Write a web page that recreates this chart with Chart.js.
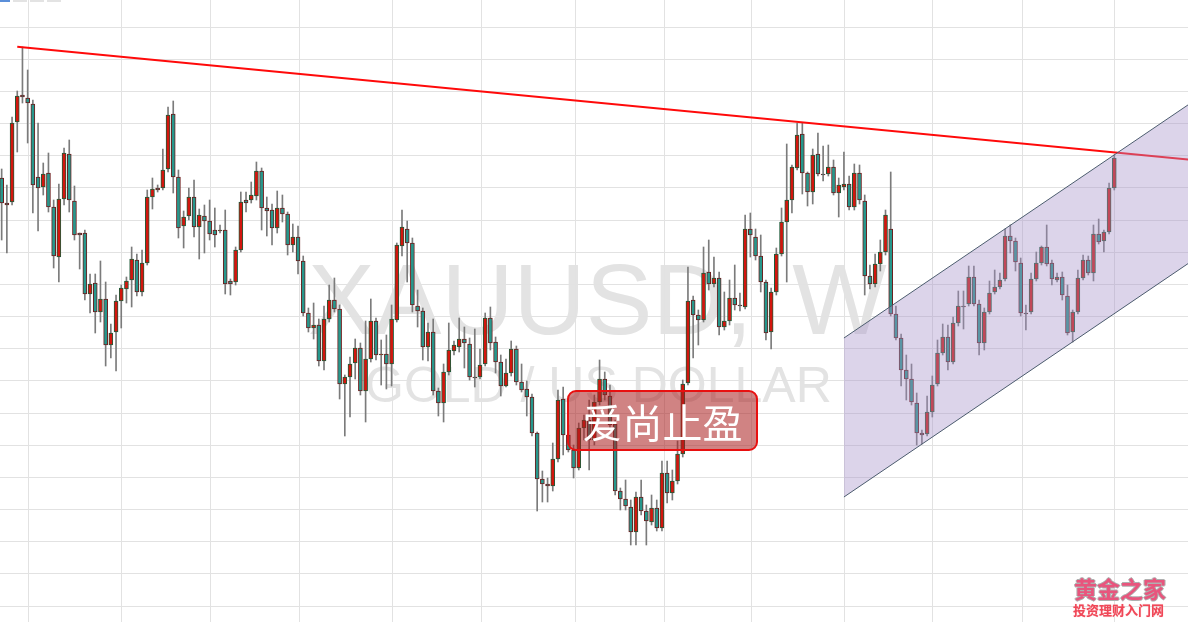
<!DOCTYPE html>
<html><head><meta charset="utf-8">
<script src="https://cdn.jsdelivr.net/npm/chart.js@4.4.1/dist/chart.umd.min.js"></script>
<style>
html,body{margin:0;padding:0;background:#fff;}
#wrap{position:relative;width:1188px;height:622px;overflow:hidden;background:#fff;}
.wm{position:absolute;white-space:nowrap;font-family:"Liberation Sans",Arial,sans-serif;color:#e3e3e3;line-height:1;}
#wm1{left:308px;top:249px;font-size:100px;word-spacing:12px;}
#wm2{left:365px;top:360px;font-size:50px;}
#c{position:absolute;left:0;top:0;}
#label{position:absolute;left:567px;top:390px;width:191px;height:61px;box-sizing:border-box;border:2px solid #e81010;border-radius:9px;background:rgba(170,30,30,0.55);color:#fff;font-family:"Noto Sans CJK SC",sans-serif;font-size:40px;display:flex;align-items:center;justify-content:center;line-height:1;}
#logo1{position:absolute;left:1074px;top:577px;font-family:"Noto Sans CJK SC",sans-serif;font-size:23px;font-weight:bold;line-height:1;color:#e8557d;text-shadow:-1px 0 #b0b0b0,1px 0 #b0b0b0,0 -1px #b0b0b0,0 1px #b0b0b0;white-space:nowrap;}
#logo2{position:absolute;left:1073px;top:603px;font-family:"Noto Sans CJK SC",sans-serif;font-size:13px;font-weight:bold;line-height:1;color:#f04858;text-shadow:0 0 1px #f7a0a8;white-space:nowrap;}
.tab{position:absolute;top:0;height:2px;background:#e3e3e3;}
</style></head>
<body>
<div id="wrap">
  <div class="wm" id="wm1">XAUUSD, W</div>
  <div class="wm" id="wm2">GOLD / US DOLLAR</div>
  <canvas id="c" width="1188" height="622"></canvas>
  <div id="label">爱尚止盈</div>
  <div id="logo1">黄金之家</div>
  <div id="logo2">投资理财入门网</div>
  <div class="tab" style="left:0;width:10px;background:#5b8fd9"></div>
  <div class="tab" style="left:13px;width:14px"></div>
  <div class="tab" style="left:30px;width:14px"></div>
  <div class="tab" style="left:47px;width:14px"></div>
</div>
<script>
// Weekly candles (oldest -> newest)
const opens = [
1322,1297,1298,1378,1405,1402,1396,1323,1313,1327,
1293,1243,1301,1346,1299,1267,1267,1206,1217,1188,
1201,1155,1168,1199,1211,1220,1240,1208,1237,1303,
1312,1312,1331,1386,1323,1274,1284,1303,1273,1284,
1279,1270,1269,1270,1219,1218,1250,1300,1300,1304,
1329,1292,1290,1272,1292,1286,1255,1263,1239,1187,
1172,1175,1139,1181,1200,1191,1116,1123,1137,1152,
1109,1141,1179,1145,1146,1136,1180,1254,1271,1257,
1194,1189,1153,1168,1109,1097,1128,1149,1153,1161,
1156,1123,1123,1136,1182,1158,1138,1114,1127,1151,
1118,1111,1103,1067,1021,1016,1014,1041,1101,1065,
1050,1032,1072,1080,1060,1098,1121,1104,1076,1009,
1001,993,968,1003,989,978,992,972,1027,1007,
1019,1046,1117,1200,1185,1180,1228,1216,1222,1173,
1179,1202,1195,1193,1271,1263,1244,1218,1168,1208,
1246,1278,1300,1332,1366,1327,1308,1346,1326,1326,
1333,1307,1313,1316,1293,1327,1299,1224,1216,1236,
1248,1271,1186,1162,1130,1121,1097,1067,1066,1088,
1116,1147,1163,1138,1177,1194,1196,1223,1196,1157,
1188,1208,1213,1221,1264,1259,1237,1187,1188,1221,
1237,1253,1237,1220,1223,1204,1168,1188,1222,1240,
1227,1266,1259,1268,1312];
const highs = [
1331,1315,1383,1409,1453,1430,1400,1377,1337,1347,
1300,1316,1352,1360,1314,1267,1270,1226,1226,1239,
1218,1176,1205,1215,1223,1253,1246,1250,1310,1322,
1315,1351,1393,1399,1330,1289,1312,1320,1291,1295,
1300,1292,1275,1290,1221,1253,1308,1308,1318,1338,
1332,1303,1296,1309,1305,1288,1276,1274,1244,1192,
1197,1181,1194,1215,1222,1195,1125,1143,1161,1157,
1179,1201,1182,1160,1165,1195,1257,1290,1279,1262,
1210,1192,1177,1181,1112,1136,1177,1159,1182,1173,
1162,1171,1151,1187,1193,1163,1145,1141,1159,1154,
1136,1119,1106,1068,1029,1022,1057,1110,1113,1075,
1055,1077,1085,1100,1105,1140,1128,1115,1080,1012,
1020,1000,1008,1020,995,1005,1000,1039,1039,1030,
1059,1120,1233,1204,1190,1253,1260,1243,1228,1208,
1220,1235,1207,1285,1287,1271,1265,1220,1212,1252,
1292,1356,1335,1377,1377,1328,1351,1367,1354,1355,
1340,1322,1348,1324,1336,1335,1305,1235,1246,1260,
1290,1328,1194,1166,1145,1136,1107,1070,1104,1124,
1160,1176,1175,1183,1209,1209,1234,1234,1200,1192,
1219,1230,1227,1271,1275,1262,1242,1195,1227,1248,
1254,1275,1240,1227,1228,1215,1190,1230,1245,1244,
1275,1281,1270,1317,1345];
const lows = [
1260,1247,1295,1348,1397,1357,1287,1269,1305,1288,
1232,1218,1295,1288,1260,1231,1200,1187,1167,1178,
1134,1142,1129,1172,1197,1193,1204,1204,1235,1291,
1308,1310,1328,1307,1262,1252,1280,1263,1241,1247,
1260,1253,1267,1206,1205,1215,1248,1288,1297,1300,
1270,1264,1255,1267,1278,1245,1248,1226,1184,1168,
1161,1134,1130,1178,1188,1101,1064,1083,1121,1105,
1078,1138,1140,1115,1111,1114,1178,1244,1218,1188,
1173,1140,1139,1105,1084,1078,1125,1145,1148,1132,
1120,1113,1121,1134,1150,1127,1104,1113,1124,1115,
1108,1084,1064,989,998,998,1009,1038,1045,1048,
1022,1030,1060,1030,1055,1095,1100,1072,1005,990,
990,955,955,985,955,975,969,969,997,1000,
1016,1043,1115,1142,1155,1178,1210,1213,1165,1170,
1175,1190,1189,1191,1243,1240,1208,1160,1151,1205,
1244,1218,1287,1330,1306,1294,1296,1324,1319,1324,
1305,1283,1310,1290,1290,1296,1205,1211,1213,1229,
1245,1184,1160,1114,1100,1095,1055,1056,1064,1083,
1114,1145,1130,1136,1174,1171,1194,1194,1145,1150,
1186,1206,1211,1219,1247,1229,1184,1170,1186,1219,
1235,1234,1215,1218,1200,1165,1158,1186,1220,1225,
1219,1256,1248,1266,1310];
const closes = [
1297,1295,1377,1404,1403,1397,1315,1312,1326,1293,
1244,1301,1347,1300,1265,1265,1206,1216,1188,1201,
1155,1167,1199,1212,1219,1241,1208,1237,1303,1311,
1310,1330,1385,1323,1272,1283,1303,1273,1285,1279,
1266,1265,1270,1216,1216,1250,1298,1297,1305,1329,
1292,1289,1272,1292,1286,1255,1263,1239,1187,1172,
1175,1139,1181,1200,1191,1116,1123,1136,1152,1109,
1141,1179,1145,1146,1136,1181,1255,1273,1257,1195,
1189,1153,1168,1109,1097,1128,1150,1155,1161,1157,
1123,1122,1135,1182,1157,1138,1114,1127,1151,1118,
1110,1103,1067,1021,1016,1014,1041,1100,1065,1050,
1032,1072,1080,1060,1098,1121,1105,1075,1009,1001,
994,968,1003,989,979,992,972,1027,1007,1019,
1046,1116,1199,1185,1180,1227,1216,1222,1173,1179,
1202,1195,1194,1271,1265,1244,1218,1167,1208,1246,
1278,1300,1333,1365,1327,1308,1345,1326,1325,1333,
1307,1315,1316,1293,1327,1300,1224,1216,1236,1248,
1285,1186,1162,1130,1121,1098,1067,1065,1088,1115,
1147,1163,1138,1177,1194,1193,1223,1196,1157,1188,
1207,1213,1220,1264,1259,1238,1187,1186,1221,1237,
1253,1236,1221,1223,1205,1167,1188,1222,1240,1227,
1266,1258,1268,1312,1342];

// Drawn trend lines (x = week index, y = price)
const resistX = [3.0, 228.5];
const resistY = [1453.3, 1340.3];
const chanTopX = [162.0, 228.5];
const chanTopY = [1162, 1396.2];
const chanBotX = [162.0, 228.5];
const chanBotY = [1003, 1237.5];

// Grid (time / price divisions)
const gridX = [5.1, 23.1, 40.1, 57.2, 75.1, 92.2, 110.3, 127.4, 144.3, 162.2, 179.1, 196.4, 214.1];
const gridY = [1473, 1440.83, 1408.67, 1376.5, 1344.33, 1312.17, 1280, 1247.83, 1215.67, 1183.5,
               1151.33, 1119.17, 1087, 1054.83, 1022.67, 990.5, 958.33, 926.17, 894];

const idx = opens.map((_, i) => i);
const isUp = i => closes[i] >= opens[i];
const UP_FILL = '#d3160e', UP_EDGE = '#1e5c3a';
const DN_FILL = '#27978c', DN_EDGE = '#6e1c1c';
const GRID = '#e2e2e2';

const pts = (xa, ya) => xa.map((x, i) => ({x, y: ya[i]}));

new Chart(document.getElementById('c'), {
  type: 'bar',
  data: {
    datasets: [
      {type: 'line', label: 'channel top', data: pts(chanTopX, chanTopY),
       borderColor: '#4c5c6e', borderWidth: 1, pointRadius: 0, fill: false, order: 0},
      {type: 'line', label: 'channel bottom', data: pts(chanBotX, chanBotY),
       borderColor: '#4c5c6e', borderWidth: 1, pointRadius: 0,
       fill: '-1', backgroundColor: 'rgba(168,148,203,0.40)', order: 0},
      {type: 'line', label: 'resistance', data: pts(resistX, resistY),
       borderColor: '#ff0a0a', borderWidth: 2, pointRadius: 0, fill: false, order: 1},
      {label: 'body', data: idx.map(i => ({x: i, y: [opens[i], closes[i]]})),
       backgroundColor: idx.map(i => isUp(i) ? UP_FILL : DN_FILL),
       borderColor: idx.map(i => isUp(i) ? UP_EDGE : DN_EDGE),
       borderWidth: 1, borderSkipped: false, barThickness: 4, grouped: false, order: 2},
      {label: 'wick', data: idx.map(i => ({x: i, y: [Math.min(lows[i], opens[i], closes[i]), Math.max(highs[i], opens[i], closes[i])]})),
       backgroundColor: '#7b7b7b', borderWidth: 0, barThickness: 1, grouped: false, order: 3}
    ]
  },
  options: {
    responsive: false,
    animation: false,
    layout: {padding: 0},
    plugins: {legend: {display: false}, tooltip: {enabled: false}},
    scales: {
      x: {type: 'linear', min: -0.32, max: 228.18, offset: false, bounds: 'data',
          grid: {color: GRID, lineWidth: 1, drawTicks: false, offset: false},
          border: {display: false}, ticks: {display: false},
          afterBuildTicks: s => { s.ticks = gridX.map(v => ({value: v})); }},
      y: {type: 'linear', min: 878, max: 1500, bounds: 'data',
          grid: {color: GRID, lineWidth: 1, drawTicks: false},
          border: {display: false}, ticks: {display: false},
          afterBuildTicks: s => { s.ticks = gridY.map(v => ({value: v})); }}
    }
  }
});
</script>
</body></html>
